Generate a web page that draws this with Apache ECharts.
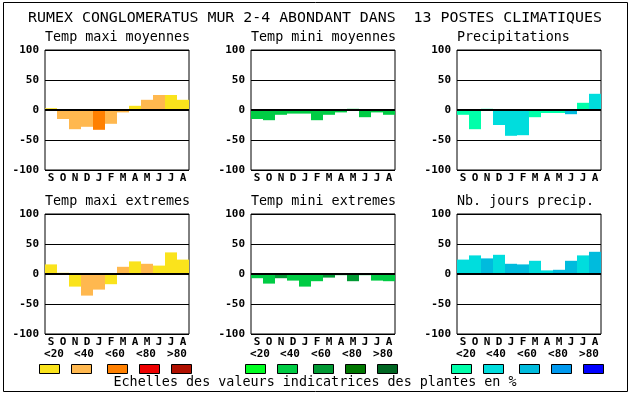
<!DOCTYPE html>
<html><head><meta charset="utf-8">
<script src="https://cdn.jsdelivr.net/npm/echarts@6/dist/echarts.min.js"></script>
<style>html,body{margin:0;padding:0;background:#fff}#c{width:630px;height:394px}</style>
</head><body><div id="c"></div>
<script>
const months = ['S','O','N','D','J','F','M','A','M','J','J','A'];
const yTicks = [-100, -50, 0, 50, 100];
const scaleLabels = ['<20','<40','<60','<80','>80'];
const titleText = 'RUMEX CONGLOMERATUS MUR 2-4 ABONDANT DANS  13 POSTES CLIMATIQUES';
const footText = 'Echelles des valeurs indicatrices des plantes en %';

const panelTitles = ['Temp maxi moyennes','Temp mini moyennes','Precipitations','Temp maxi extremes','Temp mini extremes','Nb. jours precip.'];

const tmaxMoy    = [3, -15, -32, -28, -33, -23, -4, 7, 17, 25, 25, 17];
const tmaxMoyCls = [0, 1, 1, 1, 2, 1, 1, 0, 1, 1, 0, 0];
const tminMoy    = [-15, -17, -8, -6, -6, -17, -8, -4, 2, -12, -4, -8];
const tminMoyCls = [1, 1, 1, 1, 1, 1, 1, 1, 1, 1, 1, 1];
const precip     = [-8, -32, 2, -25, -43, -42, -12, -5, -5, -7, 12, 27];
const precipCls  = [0, 0, 0, 1, 1, 1, 0, 0, 0, 2, 0, 1];
const tmaxExt    = [16, 2, -21, -36, -26, -17, 12, 21, 17, 14, 36, 24];
const tmaxExtCls = [0, 0, 0, 1, 1, 0, 1, 0, 1, 0, 0, 0];
const tminExt    = [-7, -16, -7, -11, -21, -12, -6, -2, -12, -2, -11, -12];
const tminExtCls = [1, 1, 2, 1, 1, 1, 2, 1, 2, 1, 1, 1];
const nbJours    = [24, 31, 26, 32, 17, 16, 22, 6, 7, 22, 31, 37];
const nbJoursCls = [1, 1, 2, 1, 2, 2, 1, 1, 2, 2, 1, 2];

const warm  = ['#fae31c','#ffb84f','#ff8000','#ee0000','#b01000'];
const green = ['#00ff22','#00cc44','#009933','#007700','#006622'];
const blue  = ['#00ffaa','#00dddd','#00bbdd','#0099ee','#0000ff'];

const panels = [
  {v: tmaxMoy, c: tmaxMoyCls, p: warm},
  {v: tminMoy, c: tminMoyCls, p: green},
  {v: precip,  c: precipCls,  p: blue},
  {v: tmaxExt, c: tmaxExtCls, p: warm},
  {v: tminExt, c: tminExtCls, p: green},
  {v: nbJours, c: nbJoursCls, p: blue}
];
const palettes = [warm, green, blue];

const lefts = [45, 251, 457];
const tops = [50, 214];
const W = 144, H = 120;
const mono = 'DejaVu Sans Mono';

const grids = [], xAxes = [], yAxes = [], series = [], graphics = [];
panels.forEach((pn, i) => {
  const col = i % 3, row = Math.floor(i / 3);
  grids.push({left: lefts[col], top: tops[row], width: W, height: H, show: true, borderColor: '#000', borderWidth: 1, backgroundColor: 'transparent'});
  xAxes.push({type: 'category', gridIndex: i, data: months, axisTick: {show: false},
    axisLine: {show: false}, splitLine: {show: false},
    axisLabel: {color: '#000', fontFamily: mono, fontWeight: 'bold', fontSize: 11, margin: 3, interval: 0}});
  yAxes.push({type: 'value', gridIndex: i, min: yTicks[0], max: yTicks[yTicks.length - 1], interval: 50,
    axisLine: {show: false}, axisTick: {show: false},
    splitLine: {show: true, lineStyle: {color: '#000', width: 1}},
    axisLabel: {color: '#000', fontFamily: mono, fontWeight: 'bold', fontSize: 11, margin: 6}});
  series.push({type: 'bar', xAxisIndex: i, yAxisIndex: i, barCategoryGap: 0, barGap: 0,
    data: pn.v.map((v, k) => ({value: v, itemStyle: {color: pn.p[pn.c[k]]}})),
    markLine: {silent: true, symbol: 'none', label: {show: false}, lineStyle: {color: '#000', width: 2, type: 'solid'},
      data: [{yAxis: 0}]},
    animation: false});
  graphics.push({type: 'text', left: lefts[col], top: tops[row] - 19,
    style: {text: panelTitles[i], font: '13.4px "' + mono + '"', fill: '#000'}});
});

// legend scale labels & boxes
const labelOffsets = [9, 39, 70, 101, 132];
const boxOffsets = [-6, 26, 62, 94, 126];
palettes.forEach((pal, col) => {
  scaleLabels.forEach((t, k) => {
    graphics.push({type: 'text', x: lefts[col] + labelOffsets[k], y: 354,
      style: {text: t, font: 'bold 11px "' + mono + '"', fill: '#000', textAlign: 'center', textVerticalAlign: 'middle'}});
    graphics.push({type: 'rect', shape: {x: lefts[col] + boxOffsets[k] + 0.5, y: 364.5, width: 20, height: 9},
      style: {fill: pal[k], stroke: '#000', lineWidth: 1}});
  });
});
graphics.push({type: 'text', x: 315, y: 383,
  style: {text: footText, font: '13.4px "' + mono + '"', fill: '#000', textAlign: 'center', textVerticalAlign: 'middle'}});
graphics.push({type: 'text', x: 315, y: 18,
  style: {text: titleText, font: '14.9px "' + mono + '"', fill: '#000', textAlign: 'center', textVerticalAlign: 'middle'}});
graphics.push({type: 'rect', shape: {x: 3.5, y: 2.5, width: 624, height: 389},
  style: {fill: 'none', stroke: '#000', lineWidth: 1}, z: 100});

const chart = echarts.init(document.getElementById('c'), null, {renderer: 'canvas'});
chart.setOption({
  animation: false,
  backgroundColor: '#fff',
  grid: grids, xAxis: xAxes, yAxis: yAxes, series: series, graphic: graphics
});
</script></body></html>
